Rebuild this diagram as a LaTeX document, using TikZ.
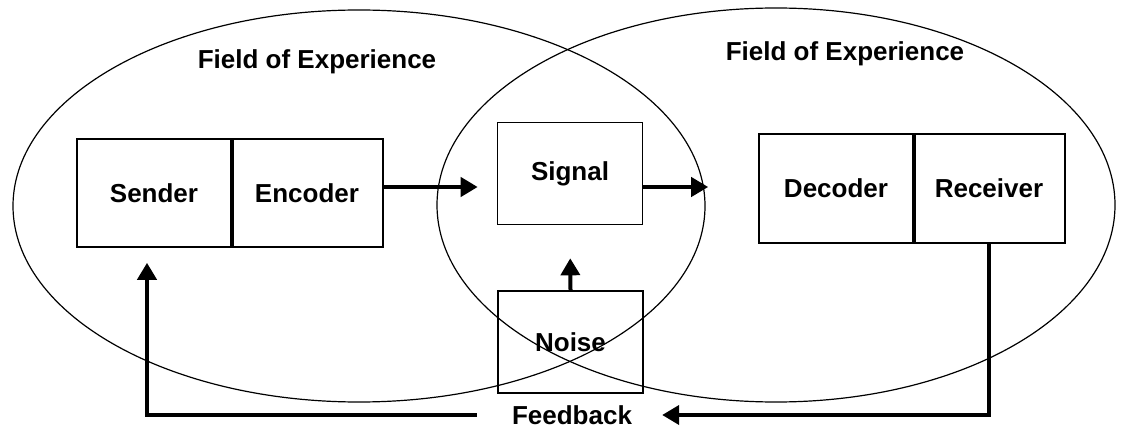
\documentclass[tikz,border=0pt]{standalone}
\usepackage{fontspec}
\setmainfont{Liberation Sans}
\usepackage{tikz}
\usetikzlibrary{arrows.meta}
\tikzset{blk/.style={rectangle,draw,line width=1.6pt,inner sep=0pt,minimum height=108pt,font=\bfseries\fontsize{26}{30}\selectfont}}
\tikzset{lbl/.style={inner sep=0pt,font=\bfseries\fontsize{26}{30}\selectfont}}
\tikzset{arr/.style={->,line width=4pt}}

\begin{document}
\begin{tikzpicture}[>={Triangle[length=17pt,width=19pt]},x=1pt,y=-1pt]
    \useasboundingbox (0,0) rectangle (1124,430);
    \draw [line width=1.2pt] (359,206) ellipse [x radius=346pt,y radius=196pt];
    \draw [line width=1.2pt] (776,205) ellipse [x radius=339pt,y radius=197pt];

    \node[lbl] (fel) at (317,62) {Field of Experience};
    \node[lbl] (fer) at (845,54) {Field of Experience};

    \node[blk,minimum width=154pt] (sen) at (154,193) {Sender};
    \node[blk,minimum width=152pt] (enc) at (307,193) {Encoder};
    \node[blk,minimum width=145pt,minimum height=102pt] (sig) at (570,173.5) {Signal};
    \node[blk,minimum width=154pt,minimum height=109pt] (dec) at (836,188.5) {Decoder};
    \node[blk,minimum width=152pt,minimum height=109pt] (rec) at (989,188.5) {Receiver};
    \node[blk,minimum width=145pt,minimum height=102pt] (noi) at (570.5,342) {Noise};
    \node[lbl] (fb) at (572,415) {Feedback};
    \coordinate (lvl) at (0,187);

    \draw [line width=3.5pt] (sen.north east) -- (sen.south east);
    \draw [line width=3.5pt] (dec.north east) -- (dec.south east);
    \draw [arr,shorten >=19pt] (enc.east |- lvl) -- (sig.west |- lvl);
    \draw [arr,shorten >=50pt] (sig.east |- lvl) -- (dec.west |- lvl);
    \draw [arr,shorten >=33pt] (noi.north) -- (sig.south);
    \draw [arr,shorten >=30pt] (rec.south) |- (fb.east);
    \draw [arr,shorten <=35pt,shorten >=15pt] (fb.west) -| ([xshift=-7pt]sen.south);
\end{tikzpicture}
\end{document}
